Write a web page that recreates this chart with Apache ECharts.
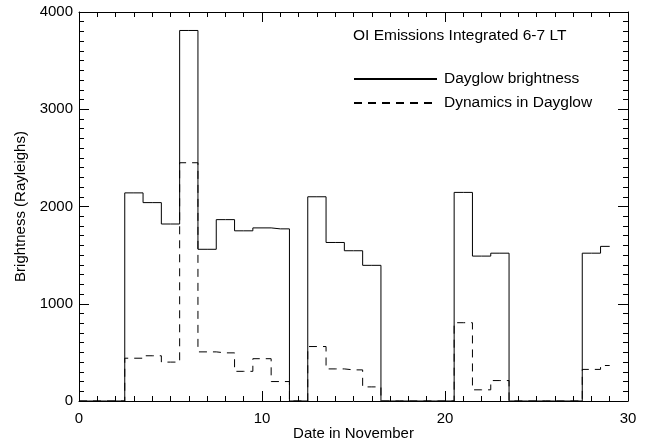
<!DOCTYPE html>
<html>
<head>
<meta charset="utf-8">
<script src="https://cdn.jsdelivr.net/npm/echarts@6/dist/echarts.min.js"></script>
<style>html,body{margin:0;padding:0;background:#fff}#c{width:646px;height:441px}</style>
</head>
<body>
<div id="c"></div>
<script>
var days = [0,1,2,3,4,5,6,7,8,9,10,11,12,13,14,15,16,17,18,19,20,21,22,23,24,25,26,27,28,29];
var brightness = [0,0,0,2140,2040,1820,3810,1560,1865,1750,1780,1770,0,2100,1630,1545,1395,0,0,0,0,2145,1490,1520,0,0,0,0,1520,1590];
var dynamics = [0,0,0,440,465,400,2450,505,495,305,435,200,0,560,330,320,145,0,0,0,0,805,115,210,0,0,0,0,325,365];
var xTicks = [0,10,20,30];
var yTicks = [0,1000,2000,3000,4000];
var titleText = 'OI Emissions Integrated 6-7 LT';
var seriesNames = ['Dayglow brightness','Dynamics in Dayglow'];

function pairs(xs, ys){ return xs.map(function(x,i){return [x, ys[i]];}); }

var font = 'Liberation Sans, Arial, Helvetica, sans-serif';
var axisCommon = {
  axisLine:{show:true, onZero:false, lineStyle:{color:'#000', width:1}},
  axisTick:{show:true, inside:true, length:10, lineStyle:{color:'#000', width:1}},
  minorTick:{show:true, splitNumber:10, length:5, lineStyle:{color:'#000', width:1}},
  splitLine:{show:false},
  minorSplitLine:{show:false}
};
function merge(a,b){ var o={}; for(var k in a)o[k]=a[k]; for(var k2 in b)o[k2]=b[k2]; return o; }
function plain(v){ return String(v); }

var chart = echarts.init(document.getElementById('c'), null, {renderer:'canvas'});
chart.setOption({
  backgroundColor:'#fff',
  animation:false,
  title:{text:titleText, left:353, top:28, padding:0, textStyle:{fontFamily:font, fontSize:15.5, fontWeight:'normal', color:'#000'}},
  legend:{
    orient:'vertical', left:353, top:71, padding:0, itemWidth:83, itemHeight:14, itemGap:8,
    itemStyle:{opacity:0},
    textStyle:{fontFamily:font, fontSize:15.5, color:'#000', padding:[0,0,0,2]},
    data:seriesNames
  },
  grid:{left:79, right:18, top:12, bottom:40, containLabel:false, outerBoundsMode:'none'},
  xAxis:[
    merge(axisCommon,{type:'value', position:'bottom', min:xTicks[0], max:xTicks[xTicks.length-1], interval:10,
      name:'Date in November', nameLocation:'middle', nameGap:25, nameMoveOverlap:false,
      nameTextStyle:{fontFamily:font, fontSize:15, color:'#000'},
      axisLabel:{show:true, margin:10, formatter:plain, fontFamily:font, fontSize:15, color:'#000'}}),
    merge(axisCommon,{type:'value', position:'top', min:xTicks[0], max:xTicks[xTicks.length-1], interval:10, axisLabel:{show:false}})
  ],
  yAxis:[
    merge(axisCommon,{type:'value', position:'left', min:yTicks[0], max:yTicks[yTicks.length-1], interval:1000,
      name:'Brightness (Rayleighs)', nameLocation:'middle', nameGap:51, nameMoveOverlap:false,
      nameTextStyle:{fontFamily:font, fontSize:15, color:'#000'},
      axisLabel:{show:true, margin:6, formatter:plain, fontFamily:font, fontSize:15, color:'#000'}}),
    merge(axisCommon,{type:'value', position:'right', min:yTicks[0], max:yTicks[yTicks.length-1], interval:1000, axisLabel:{show:false}})
  ],
  series:[
    {name:seriesNames[0], type:'line', step:'middle', symbol:'none', xAxisIndex:0, yAxisIndex:0,
     data:pairs(days, brightness), lineStyle:{color:'#000', width:1, type:'solid'}, itemStyle:{color:'#000'}},
    {name:seriesNames[1], type:'line', step:'middle', symbol:'none', xAxisIndex:0, yAxisIndex:0,
     data:pairs(days, dynamics), lineStyle:{color:'#000', width:1, type:[8,6]}, itemStyle:{color:'#000'}}
  ]
});
</script>
</body>
</html>
